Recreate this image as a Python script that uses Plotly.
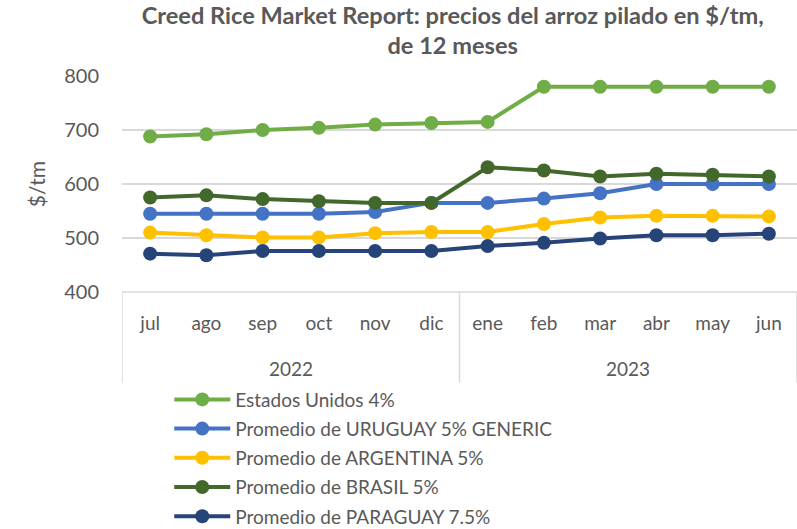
import plotly.graph_objects as go

months = ["jul", "ago", "sep", "oct", "nov", "dic", "ene", "feb", "mar", "abr", "may", "jun"]
years = ["2022", "2023"]

estados_unidos = [688, 692, 700, 704, 710, 713, 715, 780, 780, 780, 780, 780]
uruguay = [545, 545, 545, 545, 548, 565, 565, 573, 583, 600, 600, 600]
argentina = [510, 505, 501, 501, 509, 511, 511, 526, 538, 541, 541, 540]
brasil = [575, 579, 572, 568, 565, 565, 631, 625, 614, 619, 617, 614]
paraguay = [471, 468, 476, 476, 476, 476, 485, 491, 499, 505, 505, 508]

series = [
    ("Estados Unidos 4%", estados_unidos, "#70AD47"),
    ("Promedio de URUGUAY 5% GENERIC", uruguay, "#4472C4"),
    ("Promedio de ARGENTINA 5%", argentina, "#FFC000"),
    ("Promedio de BRASIL 5%", brasil, "#43682B"),
    ("Promedio de PARAGUAY 7.5%", paraguay, "#264478"),
]

FONT = "Lato"
GRAY = "#595959"
LINEGRAY = "#d9d9d9"

fig = go.Figure()
for i, (name, vals, color) in enumerate(series):
    fig.add_trace(go.Scatter(
        x=months, y=vals, name=name, mode="lines+markers",
        line=dict(color=color, width=4),
        marker=dict(color=color, size=14),
        legendgroup=f"g{i}",
    ))

# year labels
for xv, yr in [(2.5, years[0]), (8.5, years[1])]:
    fig.add_annotation(x=xv, y=-0.352, xref="x", yref="paper", text=yr,
                       yanchor="middle", showarrow=False,
                       font=dict(family=FONT, size=19, color=GRAY))

# category dividers
for xv in [-0.5, 5.5, 11.5]:
    fig.add_shape(type="line", x0=xv, x1=xv, y0=0, y1=-0.42, xref="x", yref="paper",
                  line=dict(color=LINEGRAY, width=1.5))
fig.add_shape(type="line", x0=-0.5, x1=11.5, y0=0, y1=0, xref="x", yref="paper",
              line=dict(color=LINEGRAY, width=1.5))

fig.update_layout(
    width=797, height=529,
    margin=dict(l=122, r=0, t=76, b=237, autoexpand=False),
    paper_bgcolor="white", plot_bgcolor="white",
    font=dict(family=FONT, color=GRAY),
    title=dict(
        text="<b>Creed Rice Market Report: precios del arroz pilado en $/tm,<br>de 12 meses</b>",
        x=0.568, xanchor="center", y=0.955, yanchor="top",
        font=dict(family=FONT, size=23.6, color=GRAY),
    ),
    xaxis=dict(
        type="category", range=[-0.5, 11.5], showgrid=False, zeroline=False,
        showline=False, ticks="", ticklabelstandoff=18, automargin=False,
        tickfont=dict(family=FONT, size=19, color=GRAY),
    ),
    yaxis=dict(
        range=[400, 800], dtick=100, showgrid=True, gridcolor=LINEGRAY, gridwidth=1.5,
        zeroline=False, showline=False, ticks="", ticklabelstandoff=22, automargin=False,
        tickfont=dict(family=FONT, size=20, color=GRAY),
        title=dict(text="$/tm", font=dict(family=FONT, size=21, color=GRAY), standoff=12),
    ),
    legend=dict(
        x=0.07, xanchor="left", y=-0.41, yanchor="top",
        font=dict(family=FONT, size=19, color=GRAY),
        itemwidth=56, tracegroupgap=1.5, bgcolor="rgba(0,0,0,0)",
    ),
    showlegend=True,
)

fig.write_html("out.html", config={"displayModeBar": False},
               post_script="document.body.style.margin='0';")
